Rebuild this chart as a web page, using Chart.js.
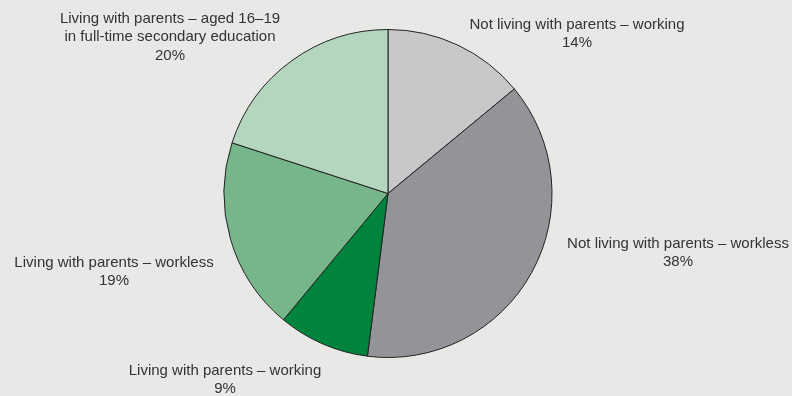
<!DOCTYPE html>
<html>
<head>
<meta charset="utf-8">
<script src="https://cdn.jsdelivr.net/npm/chart.js@4.4.1/dist/chart.umd.min.js"></script>
<style>
  html, body { margin: 0; padding: 0; background: #e8e9e6; }
  #wrap { width: 792px; height: 396px; }
</style>
</head>
<body>
<div id="wrap"><canvas id="pie-chart" width="792" height="396"></canvas></div>
<script>
// Shares of the group, clockwise from 12 o'clock
var categories = [
    ['Not living with parents – working'],
    ['Not living with parents – workless'],
    ['Living with parents – working'],
    ['Living with parents – workless'],
    ['Living with parents – aged 16–19', 'in full-time secondary education']
];
var shares = [14, 38, 9, 19, 20];
var sliceColors = ['#c8c8ca', '#939497', '#00833c', '#77b68a', '#b5d6be'];

// label anchors, relative to the pie centre (first line middle)
var labelOffsets = [
    [189, -169],
    [290, 50],
    [-163, 177],
    [-274, 69],
    [-218, -175]
];

var pieLabels = {
    id: 'pieLabels',
    afterDraw: function (chart) {
        var ctx = chart.ctx;
        var arc = chart.getDatasetMeta(0).data[0];
        ctx.save();
        ctx.font = '15px "Liberation Sans", Arial, sans-serif';
        ctx.fillStyle = '#333333';
        ctx.textAlign = 'center';
        ctx.textBaseline = 'middle';
        categories.forEach(function (lines, i) {
            var x = arc.x + labelOffsets[i][0];
            var y = arc.y + labelOffsets[i][1];
            var all = lines.concat([shares[i] + '%']);
            all.forEach(function (t, j) {
                ctx.fillText(t, x, y + j * 18.7);
            });
        });
        ctx.restore();
    }
};

var ctx = document.getElementById('pie-chart');
new Chart(ctx, {
    type: 'pie',
    data: {
        labels: categories.map(function (l) { return l.join(' '); }),
        datasets: [{
            data: shares,
            backgroundColor: sliceColors,
            borderColor: '#222222',
            borderWidth: 1
        }]
    },
    options: {
        responsive: false,
        animation: false,
        layout: {
            padding: { top: 29, bottom: 38, left: 100, right: 116 }
        },
        plugins: {
            legend: { display: false },
            tooltip: { enabled: false }
        }
    },
    plugins: [pieLabels]
});
</script>
</body>
</html>
